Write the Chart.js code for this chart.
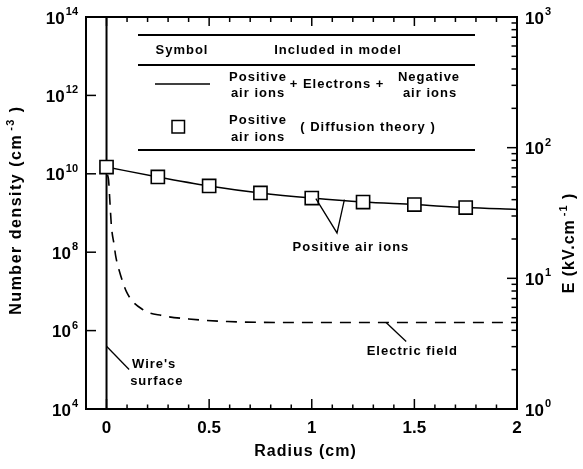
<!DOCTYPE html>
<html><head><meta charset="utf-8">
<script src="https://cdn.jsdelivr.net/npm/chart.js@4.4.1/dist/chart.umd.min.js"></script>
<style>html,body{margin:0;padding:0;background:#fff}#wrap{width:583px;height:469px}</style>
</head><body><div id="wrap"><canvas id="c" width="583" height="469"></canvas></div>
<script>
// ---- data ----
const radiusCm = [0, 0.25, 0.5, 0.75, 1.0, 1.25, 1.5, 1.75, 2.0];
const positiveIons = [1.49e10, 8.3e9, 4.9e9, 3.24e9, 2.4e9, 1.9e9, 1.64e9, 1.38e9, 1.23e9];
const diffusionRadius = [0, 0.25, 0.5, 0.75, 1.0, 1.25, 1.5, 1.75];
const diffusionIons = [1.49e10, 8.3e9, 4.9e9, 3.24e9, 2.4e9, 1.9e9, 1.64e9, 1.38e9];
const fieldRadius = [0.005, 0.01, 0.016, 0.024, 0.037, 0.045, 0.061, 0.10, 0.18, 0.27, 0.40, 0.59, 0.92, 2.0];
const electricField = [61.8, 56.6, 39.8, 24.9, 18.0, 14.7, 11.6, 7.73, 5.73, 5.19, 4.89, 4.67, 4.59, 4.59];
const wireRadius = [0, 0];
const wireDensity = [1e4, 1e14];
const xTicks = [0, 0.5, 1, 1.5, 2];
const xTickLabels = ['0', '0.5', '1', '1.5', '2'];
const leftTickExp = [4, 6, 8, 10, 12, 14];
const rightTickExp = [0, 1, 2, 3];

// annotation anchors in data units
const ionsLeader = [[1.02, 2.33e9], [1.123, 3.1e8], [1.159, 2.2e9]];
const ionsLabel = [1.191, 1.36e8];
const fieldLeader = [[1.362, 4.59], [1.46, 3.28]];
const fieldLabel = [1.49, 2.75];
const wireLeader = [[0, 4e5], [0.11, 1.02e5]];
const wireLabel1 = [0.124, Math.pow(10, 5.127)];
const wireLabel2 = [0.115, Math.pow(10, 4.70)];

const FONT = "'Liberation Sans', Arial, Helvetica, sans-serif";
const pts = (xs, ys) => xs.map((v, i) => ({x: v, y: ys[i]}));

function supText(ctx, base, exp, x, y, align, baseSize, expSize, rise) {
  ctx.font = `bold ${baseSize}px ${FONT}`;
  const bw = ctx.measureText(base).width;
  ctx.font = `bold ${expSize}px ${FONT}`;
  const ew = ctx.measureText(exp).width;
  const gap = 1;
  let x0 = x;
  if (align === 'right') x0 = x - bw - gap - ew;
  else if (align === 'center') x0 = x - (bw + gap + ew) / 2;
  ctx.textAlign = 'left'; ctx.textBaseline = 'middle';
  ctx.font = `bold ${baseSize}px ${FONT}`;
  ctx.fillText(base, x0, y);
  ctx.font = `bold ${expSize}px ${FONT}`;
  ctx.fillText(exp, x0 + bw + gap, y - rise);
}

function rotTitle(ctx, cx, cy, main, exp, tail, size, expSize, ls) {
  ctx.save();
  ctx.translate(cx, cy);
  ctx.rotate(-Math.PI / 2);
  ctx.letterSpacing = ls + 'px';
  ctx.textBaseline = 'middle'; ctx.textAlign = 'left';
  ctx.font = `bold ${size}px ${FONT}`;
  const w1 = ctx.measureText(main).width;
  const w3 = ctx.measureText(tail).width;
  ctx.font = `bold ${expSize}px ${FONT}`;
  const w2 = ctx.measureText(exp).width;
  const total = w1 + 3 + w2 + w3;
  let xs = -total / 2;
  ctx.font = `bold ${size}px ${FONT}`;
  ctx.fillText(main, xs, 0);
  ctx.font = `bold ${expSize}px ${FONT}`;
  ctx.fillText(exp, xs + w1 + 3, -6);
  ctx.font = `bold ${size}px ${FONT}`;
  ctx.fillText(tail, xs + w1 + 3 + w2, 0);
  ctx.restore();
}

const decor = {
  id: 'decor',
  afterDraw(chart) {
    const {ctx, chartArea: a} = chart;
    const sx = chart.scales.x, sy = chart.scales.y, sy2 = chart.scales.y2;
    const ln = (x1, y1, x2, y2) => { ctx.beginPath(); ctx.moveTo(x1, y1); ctx.lineTo(x2, y2); ctx.stroke(); };
    ctx.save();
    ctx.strokeStyle = '#000'; ctx.fillStyle = '#000';
    // frame
    ctx.lineWidth = 2;
    ctx.strokeRect(a.left, a.top, a.right - a.left, a.bottom - a.top);
    // x ticks (inside, bottom and top)
    ctx.lineWidth = 1.5;
    for (let i = -1; i <= 20; i++) {
      const px = sx.getPixelForValue(i / 10);
      if (px <= a.left + 1 || px >= a.right - 1) continue;
      const major = i % 5 === 0;
      ln(px, a.bottom, px, a.bottom - (major ? 10 : 4.5));
      ln(px, a.top, px, a.top + (major ? 9 : 5));
    }
    // left ticks
    leftTickExp.forEach(e => {
      const py = sy.getPixelForValue(Math.pow(10, e));
      if (py > a.top + 1 && py < a.bottom - 1) ln(a.left, py, a.left + 10, py);
    });
    // right ticks
    for (let n = 0; n < 3; n++) {
      for (let k = 1; k <= 9; k++) {
        const py = sy2.getPixelForValue(k * Math.pow(10, n));
        if (py >= a.bottom - 1 || py <= a.top + 1) continue;
        ln(a.right, py, a.right - (k === 1 ? 10 : 5.5), py);
      }
    }
    // tick labels
    leftTickExp.forEach(e => {
      const py = sy.getPixelForValue(Math.pow(10, e));
      supText(ctx, '10', String(e), 78, py + 2, 'right', 17, 11, 7);
    });
    rightTickExp.forEach(e => {
      const py = sy2.getPixelForValue(Math.pow(10, e));
      supText(ctx, '10', String(e), 525, py + 2, 'left', 17, 11, 7);
    });
    ctx.font = `bold 17px ${FONT}`;
    ctx.textAlign = 'center'; ctx.textBaseline = 'middle';
    xTicks.forEach((v, i) => ctx.fillText(xTickLabels[i], sx.getPixelForValue(v), 428));
    // axis titles
    ctx.save();
    ctx.letterSpacing = '1px';
    ctx.font = `bold 16px ${FONT}`;
    ctx.fillText('Radius (cm)', (a.left + a.right) / 2 + 4, 452);
    ctx.restore();
    rotTitle(ctx, 17, 210, 'Number density (cm', '-3', ' )', 16, 11, 1.5);
    rotTitle(ctx, 570, 243, 'E (kV.cm', '-1', ' )', 16, 11, 1);

    // legend table
    ctx.lineWidth = 2;
    ln(138, 35, 475, 35); ln(138, 65, 475, 65); ln(138, 150, 475, 150);
    ctx.letterSpacing = '1px';
    ctx.font = `bold 13px ${FONT}`;
    ctx.textAlign = 'center'; ctx.textBaseline = 'middle';
    ctx.fillText('Symbol', 182, 50);
    ctx.fillText('Included in model', 338, 50);
    ctx.fillText('Positive', 258, 77);
    ctx.fillText('air ions', 258, 93);
    ctx.fillText('+ Electrons +', 337, 84);
    ctx.fillText('Negative', 429, 77);
    ctx.fillText('air ions', 430, 93);
    ctx.fillText('Positive', 258, 120);
    ctx.fillText('air ions', 258, 137);
    ctx.fillText('( Diffusion theory )', 368, 127);
    ctx.lineWidth = 1.5;
    ln(155, 84, 210, 84);
    ctx.fillStyle = '#fff';
    ctx.fillRect(172, 120.5, 12.5, 12.5);
    ctx.strokeRect(172, 120.5, 12.5, 12.5);
    ctx.fillStyle = '#000';

    // annotations
    const P = (p, s) => [sx.getPixelForValue(p[0]), s.getPixelForValue(p[1])];
    ctx.lineWidth = 1.3;
    let q0 = P(ionsLeader[0], sy), q1 = P(ionsLeader[1], sy), q2 = P(ionsLeader[2], sy);
    ctx.beginPath(); ctx.moveTo(q0[0], q0[1]); ctx.lineTo(q1[0], q1[1]); ctx.lineTo(q2[0], q2[1]); ctx.stroke();
    let t = P(ionsLabel, sy);
    ctx.fillText('Positive air ions', t[0], t[1]);
    q0 = P(fieldLeader[0], sy2); q1 = P(fieldLeader[1], sy2);
    ln(q0[0], q0[1], q1[0], q1[1]);
    t = P(fieldLabel, sy2);
    ctx.fillText('Electric field', t[0], t[1]);
    q0 = P(wireLeader[0], sy); q1 = P(wireLeader[1], sy);
    ln(q0[0], q0[1], q1[0], q1[1]);
    ctx.textAlign = 'left';
    t = P(wireLabel1, sy); ctx.fillText("Wire's", t[0], t[1]);
    t = P(wireLabel2, sy); ctx.fillText('surface', t[0], t[1]);
    ctx.restore();
  }
};

new Chart(document.getElementById('c'), {
  type: 'scatter',
  data: {
    datasets: [
      { label: 'Positive air ions (Diffusion theory)', data: pts(diffusionRadius, diffusionIons), yAxisID: 'y',
        showLine: false, pointStyle: 'rect', pointRadius: 9.3, pointHoverRadius: 9.3,
        pointBackgroundColor: '#fff', pointBorderColor: '#000', pointBorderWidth: 1.6 },
      { label: 'Positive air ions + Electrons + Negative air ions', data: pts(radiusCm, positiveIons), yAxisID: 'y',
        showLine: true, borderColor: '#000', borderWidth: 1.5, pointRadius: 0, cubicInterpolationMode: 'monotone' },
      { label: 'Electric field', data: pts(fieldRadius, electricField), yAxisID: 'y2',
        showLine: true, borderColor: '#000', borderWidth: 1.6, borderDash: [11, 8], pointRadius: 0, cubicInterpolationMode: 'monotone' },
      { label: "Wire's surface", data: pts(wireRadius, wireDensity), yAxisID: 'y',
        showLine: true, borderColor: '#000', borderWidth: 2, pointRadius: 0 }
    ]
  },
  options: {
    responsive: false, animation: false, devicePixelRatio: 1,
    layout: { padding: { left: 86, right: 66, top: 17, bottom: 60 } },
    plugins: { legend: { display: false }, tooltip: { enabled: false } },
    events: [],
    scales: {
      x: { type: 'linear', min: -0.1, max: 2, display: false },
      y: { type: 'logarithmic', min: 1e4, max: 1e14, display: false },
      y2: { type: 'logarithmic', min: 1, max: 1000, display: false, position: 'right' }
    }
  },
  plugins: [decor]
});
</script></body></html>
